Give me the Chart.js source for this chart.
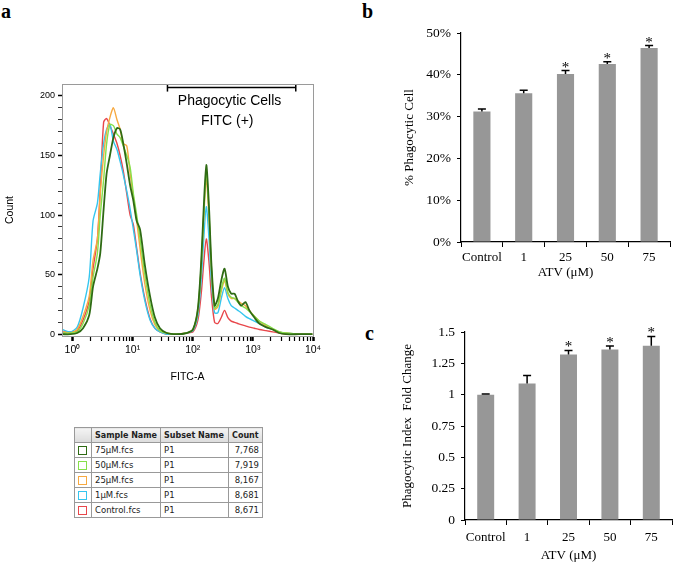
<!DOCTYPE html>
<html>
<head>
<meta charset="utf-8">
<script src="https://cdn.jsdelivr.net/npm/chart.js@4.4.1/dist/chart.umd.min.js"></script>
<style>
  body { margin: 0; width: 675px; height: 563px; background: #fff; position: relative; overflow: hidden; }
  canvas { position: absolute; }
  .panel { position: absolute; font: bold 20px "Liberation Serif", serif; }
  table { position: absolute; left: 74px; top: 427px; border-collapse: collapse; font: 8.5px "DejaVu Sans", sans-serif; color: #222; }
  td, th { border: 1px solid #999; height: 14px; padding: 0 3px; text-align: left; white-space: nowrap; }
  th { background: linear-gradient(#f4f4f4, #dcdcdc); font-weight: bold; font-size: 8px; }
  td.num { text-align: right; }
  .sw { display: inline-block; width: 7px; height: 7px; border: 1.5px solid; vertical-align: middle; }
</style>
</head>
<body>
<div class="panel" style="left:1px;top:0px">a</div>
<div class="panel" style="left:362px;top:0px">b</div>
<div class="panel" style="left:365px;top:322px">c</div>

<canvas id="histo" width="340" height="395" style="left:0;top:0"></canvas>
<canvas id="pct" width="315" height="290" style="left:360px;top:0"></canvas>
<canvas id="fold" width="315" height="263" style="left:360px;top:300px"></canvas>

<table id="legendTable">
  <tr><th style="width:10px"></th><th style="width:62px">Sample Name</th><th style="width:61px">Subset Name</th><th style="width:27px">Count</th></tr>
</table>

<script>
// panel a: FITC histogram
const fitc = [0.67, 0.93, 1.2, 1.5, 1.9, 2.2, 2.6, 2.9, 3.3, 3.7, 4.2, 4.8, 5.5, 6.2, 7, 8, 9.1, 10.3, 11.7, 13.3,
  16, 19.5, 23.5, 28.5, 37, 54, 79, 101, 122, 139, 152, 168, 186, 204, 231, 262, 298, 338, 384, 436,
  495, 562, 638, 752, 875, 1060, 1280, 1650, 2130, 2740, 3530, 5870, 9750];

const count75 = [0, 0, 1, 5, 16, 40, 55, 68, 105, 135, 150, 165, 173, 172, 160, 143, 125, 112, 95, 88,
  58, 32, 14, 5, 1, 0, 1, 4, 22, 63, 105, 142, 108, 60, 24, 30, 45, 55, 40, 34,
  34, 28, 24, 27, 20, 14, 9, 6, 4, 1, 0, 0, 0];
const count50 = [1, 1, 2, 9, 24, 48, 68, 100, 130, 160, 176, 175, 168, 165, 158, 150, 140, 118, 100, 80,
  50, 25, 10, 3, 1, 0, 1, 4, 21, 60, 100, 136, 103, 57, 22, 25, 38, 47, 35, 31,
  30, 27, 24, 22, 19, 15, 11, 8, 5, 2, 1, 0, 0];
const count25 = [2, 1, 4, 15, 32, 62, 80, 118, 150, 170, 182, 190, 180, 172, 160, 158, 135, 115, 95, 72,
  42, 20, 8, 3, 1, 0, 1, 4, 20, 58, 97, 130, 99, 55, 21, 23, 36, 45, 34, 30,
  30, 28, 26, 24, 20, 15, 11, 7, 4, 2, 1, 0, 0];
const count1 = [4, 2, 6, 22, 48, 95, 110, 135, 160, 172, 176, 162, 155, 145, 134, 120, 105, 88, 70, 50,
  28, 12, 5, 2, 0, 0, 1, 3, 16, 47, 79, 107, 81, 45, 18, 18, 30, 39, 30, 24,
  22, 20, 18, 15, 13, 11, 9, 6, 4, 2, 1, 0, 0];
const countCtrl = [2, 2, 3, 12, 28, 55, 80, 122, 178, 181, 175, 168, 160, 150, 137, 118, 100, 92, 72, 52,
  30, 13, 5, 2, 0, 0, 1, 2, 12, 35, 59, 80, 61, 33, 10, 9, 14, 20, 14, 11,
  10, 9, 8, 7, 6, 5, 4, 3, 2, 1, 0, 0, 0];

const sampleNames = ["75\u00b5M.fcs", "50\u00b5M.fcs", "25\u00b5M.fcs", "1\u00b5M.fcs", "Control.fcs"];
const subsetNames = ["P1", "P1", "P1", "P1", "P1"];
const eventCounts = ["7,768", "7,919", "8,167", "8,681", "8,671"];
const sampleColors = ["#2f6b14", "#86e04a", "#f7a940", "#35c6ef", "#e8474b"];
const histoSeries = [count75, count50, count25, count1, countCtrl];

const gateX = [38, 5170];
const gateY = 207;

// panels b and c
const doses = ["Control", "1", "25", "50", "75"];
const pctPhago = [31.2, 35.6, 40.2, 42.6, 46.4];
const pctErr = [0.6, 0.7, 0.8, 0.5, 0.6];
const foldIndex = [1.0, 1.09, 1.32, 1.36, 1.39];
const foldErr = [0.005, 0.062, 0.033, 0.028, 0.075];
const signif = [false, false, true, true, true];

const sup = ["\u2070", "\u00b9", "\u00b2", "\u00b3", "\u2074"];
const serif = "'Liberation Serif', serif";
const sans = "'Liberation Sans', sans-serif";

// legend table
const tbl = document.getElementById("legendTable");
sampleNames.forEach((name, i) => {
  let tr = document.createElement("tr");
  tr.innerHTML = `<td><span class="sw" style="border-color:${sampleColors[i]}"></span></td><td>${name}</td><td>${subsetNames[i]}</td><td class="num">${eventCounts[i]}</td>`;
  tbl.appendChild(tr);
});

const histoExtras = {
  id: "histoExtras",
  afterDatasetsDraw(chart) {
    const { ctx, chartArea: a, scales: { x, y } } = chart;
    ctx.save();
    ctx.strokeStyle = "#9a9a9a";
    ctx.lineWidth = 1;
    ctx.strokeRect(a.left + 0.5, a.top + 0.5, a.right - a.left, a.bottom - a.top);
    ctx.fillStyle = "#000";
    ctx.font = "14px " + sans;
    ctx.textAlign = "center";
    ctx.textBaseline = "middle";
    ctx.fillText("Phagocytic Cells", x.getPixelForValue(410), y.getPixelForValue(196));
    ctx.fillText("FITC (+)", x.getPixelForValue(375), y.getPixelForValue(179));
    ctx.restore();
  },
};

const histoDatasets = histoSeries.map((s, i) => ({
  label: sampleNames[i],
  data: fitc.map((v, j) => ({ x: v, y: s[j] })),
  borderColor: sampleColors[i],
  borderWidth: i === 0 ? 1.8 : 1.4,
  pointRadius: 0,
  tension: 0.25,
}));
histoDatasets.unshift({
  label: "gate",
  data: gateX.map((v) => ({ x: v, y: gateY })),
  borderColor: "#000",
  borderWidth: 1.5,
  pointStyle: "line",
  rotation: 90,
  pointRadius: 4,
  pointBorderWidth: 1.5,
  pointBorderColor: "#000",
});

const xTicks = [];
for (let d = 0; d < 4; d++) for (let m = 1; m < 10; m++) xTicks.push(m * Math.pow(10, d));
xTicks.push(10000);

new Chart(document.getElementById("histo"), {
  type: "line",
  data: { datasets: histoDatasets },
  options: {
    responsive: false,
    animation: false,
    layout: { padding: { top: 84, right: 27, left: 0, bottom: 0 } },
    plugins: { legend: { display: false }, tooltip: { enabled: false } },
    scales: {
      x: {
        type: "logarithmic",
        min: 0.67,
        max: 10000,
        afterBuildTicks: (scale) => { scale.ticks = xTicks.map((v) => ({ value: v })); },
        afterFit: (scale) => { scale.height = 59; },
        ticks: {
          autoSkip: false,
          maxRotation: 0,
          padding: 3,
          color: "#000",
          font: { family: sans, size: 10.5 },
          callback: (v) => {
            const p = Math.log10(v);
            return Math.abs(p - Math.round(p)) < 1e-9 ? "10" + sup[Math.round(p)] : "";
          },
        },
        grid: {
          drawOnChartArea: false,
          tickLength: 5,
          tickColor: "#000",
          tickWidth: (c) => {
            const p = Math.log10(c.tick.value);
            return Math.abs(p - Math.round(p)) < 1e-9 ? 2.5 : 1.2;
          },
        },
        border: { color: "#000" },
        title: { display: true, text: "FITC-A", color: "#000", font: { family: sans, size: 10.5 }, padding: { top: 0, bottom: 12 } },
      },
      y: {
        min: -1.5,
        max: 210,
        afterBuildTicks: (scale) => {
          const t = [];
          for (let v = 0; v <= 200; v += 10) t.push({ value: v });
          scale.ticks = t;
        },
        afterFit: (scale) => { scale.width = 62; },
        ticks: {
          autoSkip: false,
          padding: 3,
          color: "#000",
          font: { family: sans, size: 9 },
          callback: (v) => (v % 50 === 0 ? v : ""),
        },
        grid: {
          drawOnChartArea: false,
          tickLength: 4,
          tickColor: "#000",
          tickWidth: (c) => (c.tick.value % 50 === 0 ? 1.5 : 0.8),
        },
        border: { color: "#000" },
        title: { display: true, text: "Count", color: "#000", font: { family: sans, size: 10.5 }, padding: { top: 4, bottom: 0 } },
      },
    },
  },
  plugins: [histoExtras],
});

const errorBars = {
  id: "errorBars",
  afterDatasetsDraw(chart, args, opts) {
    const { ctx } = chart;
    const yScale = chart.scales.y;
    const values = chart.data.datasets[0].data;
    ctx.save();
    ctx.strokeStyle = "#000";
    ctx.fillStyle = "#000";
    ctx.lineWidth = 1.5;
    ctx.font = "15px " + serif;
    ctx.textAlign = "center";
    ctx.textBaseline = "alphabetic";
    chart.getDatasetMeta(0).data.forEach((bar, i) => {
      const top = yScale.getPixelForValue(values[i] + opts.errors[i]);
      ctx.beginPath();
      ctx.moveTo(bar.x, bar.y);
      ctx.lineTo(bar.x, top);
      ctx.moveTo(bar.x - 4, top);
      ctx.lineTo(bar.x + 4, top);
      ctx.stroke();
      if (opts.stars[i]) ctx.fillText("*", bar.x, top + 1);
    });
    ctx.restore();
  },
};

function barChart(id, values, errors, opt) {
  return new Chart(document.getElementById(id), {
    type: "bar",
    data: {
      labels: doses,
      datasets: [{ data: values, backgroundColor: "#979797", barPercentage: 0.41, categoryPercentage: 1 }],
    },
    options: {
      responsive: false,
      animation: false,
      layout: { padding: opt.padding },
      plugins: {
        legend: { display: false },
        tooltip: { enabled: false },
        errorBars: { errors: errors, stars: signif },
      },
      scales: {
        x: {
          afterFit: (scale) => { scale.height = opt.xHeight; },
          ticks: { color: "#000", padding: opt.xPad, autoSkip: false, maxRotation: 0, minRotation: 0, font: { family: serif, size: 13 } },
          grid: { offset: true, drawOnChartArea: false, tickLength: 5, tickColor: "#000" },
          border: { color: "#000", width: 1.2 },
          title: { display: true, text: "ATV (\u03bcM)", color: "#000", font: { family: serif, size: 13 }, padding: { top: 0, bottom: opt.xTitlePad } },
        },
        y: {
          min: 0,
          max: opt.max,
          afterFit: (scale) => { scale.width = opt.yWidth; },
          ticks: { stepSize: opt.step, color: "#000", padding: 6, font: { family: serif, size: 13.5 }, callback: opt.fmt },
          grid: { drawOnChartArea: false, tickLength: 4, tickColor: "#000" },
          border: { color: "#000", width: 1.2 },
          title: { display: true, text: opt.yTitle, color: "#000", font: { family: serif, size: 13 }, padding: { top: opt.yTitlePad, bottom: 0 } },
        },
      },
    },
    plugins: [errorBars],
  });
}

barChart("pct", pctPhago, pctErr, {
  padding: { top: 33, right: 5, left: 0, bottom: 0 },
  xHeight: 48, yWidth: 101, xPad: 3, xTitlePad: 10, yTitlePad: 42,
  max: 50, step: 10, fmt: (v) => v + "%", yTitle: "% Phagocytic Cell",
});

barChart("fold", foldIndex, foldErr, {
  padding: { top: 32, right: 3, left: 0, bottom: 0 },
  xHeight: 43, yWidth: 105, xPad: 5, xTitlePad: 0, yTitlePad: 40,
  max: 1.5, step: 0.25, fmt: (v) => String(v), yTitle: "Phagocytic Index  Fold Change",
});
</script>
</body>
</html>
